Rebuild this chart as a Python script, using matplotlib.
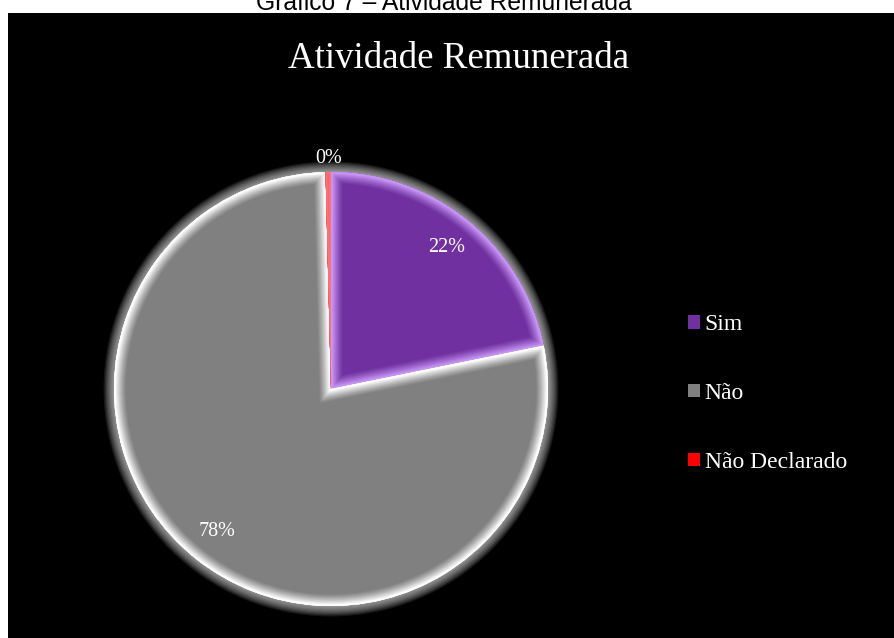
import numpy as np
import matplotlib.pyplot as plt
from matplotlib.colors import to_rgb
from matplotlib.patches import Rectangle, Circle, Wedge

categories = ['Sim', 'Não', 'Não Declarado']
percent = [21.8, 77.8, 0.4]
colors = ['#7030A0', '#808080', '#FF0000']
highlights = ['#C795F5', '#FFFFFF', '#FF7070']

W, H = 894, 638
fig = plt.figure(figsize=(W / 100, H / 100), dpi=100, facecolor='white')

# black chart area under the caption
fig.patches.append(Rectangle((8 / W, 0), (W - 8) / W, (H - 13) / H,
                             transform=fig.transFigure, facecolor='black',
                             edgecolor='none', zorder=-1))

fig.text(443.5 / W, (H - 10) / H, 'Gráfico 7 – Atividade Remunerada',
         ha='center', va='baseline', fontsize=17.7, family='Liberation Sans',
         color='black')
fig.text(459 / W, (H - 68) / H, 'Atividade Remunerada', ha='center',
         va='baseline', fontsize=26.6, family='Liberation Serif', color='white')

# pie axes: centre (331, 389) px from top, radius 217 px
cx, cy, R = 331, H - 389, 217
lim = 1.15
side = 2 * lim * R
ax = fig.add_axes([(cx - side / 2) / W, (cy - side / 2) / H, side / W, side / H])

# soft halo around the pie
for i in range(9):
    ax.add_patch(Circle((0, 0), 1.0, facecolor='none', edgecolor='white',
                        lw=1.5 + i * 1.7, alpha=0.09, zorder=1))

wedges, texts, autotexts = ax.pie(
    percent, colors=colors, startangle=90, counterclock=False, radius=1.0,
    autopct='%1.0f%%', pctdistance=0.84,
    wedgeprops=dict(edgecolor='none', zorder=2),
    textprops=dict(color='white', fontsize=14.5, family='Liberation Serif'))
ax.set_xlim(-lim, lim)
ax.set_ylim(-lim, lim)
ax.axis('off')

# bevel along the wedge edges
n = 12
for w, base, hi in zip(wedges, colors, highlights):
    b, h = np.array(to_rgb(base)), np.array(to_rgb(hi))
    for k in range(n):
        t = (k + 1) / n
        col = b + (h - b) * t ** 1.2
        lw = 16 * (1 - k / n) + 1
        edge = Wedge(w.center, w.r, w.theta1, w.theta2, facecolor='none',
                     edgecolor=col, lw=lw, zorder=3)
        ax.add_patch(edge)
        edge.set_clip_path(w)

for t in autotexts:
    t.set_zorder(5)
# the tiny slice gets its label outside the rim
autotexts[2].set_position((np.cos(np.deg2rad(90 - 0.5)) * 1.06 - 0.02,
                           np.sin(np.deg2rad(90 - 0.5)) * 1.06))

leg = fig.legend(wedges, categories, loc='center left',
                 bbox_to_anchor=(688 / W, 244.5 / H), frameon=False,
                 handlelength=0.5, handleheight=0.5, handletextpad=0.2,
                 labelspacing=2.02, borderpad=0, borderaxespad=0,
                 prop=dict(family='Liberation Serif', size=17))
for txt in leg.get_texts():
    txt.set_color('white')

fig.savefig('out.png', dpi=100, facecolor='white')
